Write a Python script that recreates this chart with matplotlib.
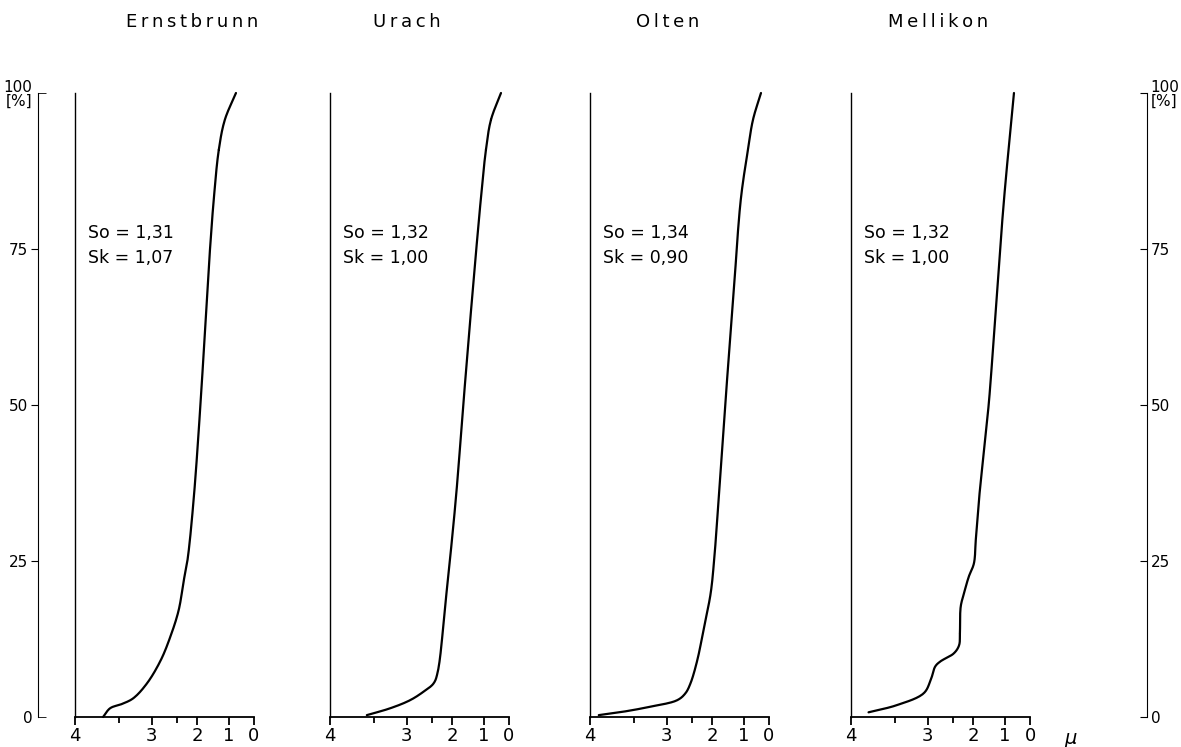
import numpy as np
import matplotlib.pyplot as plt

# =========================
# DATA
# =========================

sites = ["Ernstbrunn", "Urach", "Olten", "Mellikon"]
so_values = ["1,31", "1,32", "1,34", "1,32"]
sk_values = ["1,07", "1,00", "0,90", "1,00"]

# grain size (scale 4 .. 0) and cumulative percent
ernst_size = [3.68, 3.60, 3.45, 3.28, 3.07, 2.82, 2.63, 2.46, 2.33, 2.24,
              2.09, 1.89, 1.70, 1.60, 1.48, 1.32, 1.13, 0.72]
ernst_pct = [0, 1.4, 2.1, 3.0, 5.4, 9.1, 12.9, 17.1, 22.0, 25.2,
             34.8, 50.8, 66.8, 74.8, 82.9, 90.9, 95.7, 100]

urach_size = [3.58, 3.25, 2.93, 2.66, 2.46, 2.36, 2.16, 1.89, 1.64, 1.38,
              1.10, 0.92, 0.72, 0.32]
urach_pct = [0.3, 1.4, 2.7, 4.1, 5.4, 7.2, 18.8, 34.8, 50.8, 66.8,
             82.9, 90.9, 95.7, 100]

olten_size = [3.90, 3.62, 3.25, 2.79, 2.63, 2.53, 2.37, 2.20, 2.04, 1.94,
              1.80, 1.58, 1.34, 1.10, 0.84, 0.64, 0.32]
olten_pct = [0.3, 0.85, 1.65, 2.7, 3.8, 5.4, 9.1, 14.5, 19.8, 25.2,
             34.8, 50.8, 66.8, 82.9, 90.9, 95.7, 100]

mell_size = [3.80, 3.47, 3.06, 2.94, 2.85, 2.75, 2.48, 2.35, 2.33, 2.31,
             2.23, 2.11, 1.98, 1.92, 1.82, 1.66, 1.50, 1.27, 1.03, 0.64]
mell_pct = [0.75, 1.9, 3.8, 5.9, 8.1, 8.9, 10.2, 11.5, 13.4, 17.7,
            19.8, 22.5, 24.6, 28.4, 34.8, 42.8, 50.8, 66.8, 82.9, 100]

sizes = [ernst_size, urach_size, olten_size, mell_size]
pcts = [ernst_pct, urach_pct, olten_pct, mell_pct]

x_major = [4, 3, 2, 1, 0]
x_minor = [3.5, 2.5]
y_ticks = [0, 25, 50, 75, 100]

# non-linear size axis (position of each tick value along the panel)
scale_vals = [0, 1, 2, 2.5, 3, 3.5, 4]
scale_pos = [0, 0.14, 0.317, 0.43, 0.572, 0.755, 1.0]


def fwd(v):
    return np.interp(v, scale_vals, scale_pos)


def inv(p):
    return np.interp(p, scale_pos, scale_vals)


def smooth(points, n=16):
    # centripetal catmull-rom through the read points
    P = np.asarray(points, dtype=float)
    P = np.vstack([2 * P[0] - P[1], P, 2 * P[-1] - P[-2]])
    out = []
    for i in range(1, len(P) - 2):
        p0, p1, p2, p3 = P[i - 1:i + 3]
        t0 = 0.0
        t1 = t0 + np.linalg.norm(p1 - p0) ** 0.5
        t2 = t1 + np.linalg.norm(p2 - p1) ** 0.5
        t3 = t2 + np.linalg.norm(p3 - p2) ** 0.5
        t = np.linspace(t1, t2, n)[:, None]
        a1 = (t1 - t) / (t1 - t0) * p0 + (t - t0) / (t1 - t0) * p1
        a2 = (t2 - t) / (t2 - t1) * p1 + (t - t1) / (t2 - t1) * p2
        a3 = (t3 - t) / (t3 - t2) * p2 + (t - t2) / (t3 - t2) * p3
        b1 = (t2 - t) / (t2 - t0) * a1 + (t - t0) / (t2 - t0) * a2
        b2 = (t3 - t) / (t3 - t1) * a2 + (t - t1) / (t3 - t1) * a3
        out.append((t2 - t) / (t2 - t1) * b1 + (t - t1) / (t2 - t1) * b2)
    return np.vstack(out)


# =========================
# FIGURE
# =========================

W, H = 1181, 747
fig = plt.figure(figsize=(W / 100, H / 100), dpi=100)
plt.rcParams['font.family'] = 'DejaVu Sans'

bottom = (H - 717) / H
height = 624 / H
panel_left = [75, 330, 590, 851]
panel_w = 179
title_x = [192, 407, 668, 938]

for i in range(4):
    ax = fig.add_axes([panel_left[i] / W, bottom, panel_w / W, height])
    ax.set_xscale('function', functions=(fwd, inv))
    ax.set_xlim(4, 0)
    ax.set_ylim(0, 100)

    # smooth in (roughly) pixel space so the curve bends like the drawing
    pts = np.column_stack([fwd(np.array(sizes[i])) * panel_w,
                           np.array(pcts[i]) * 6.24])
    curve = smooth(pts)
    ax.plot(inv(curve[:, 0] / panel_w), curve[:, 1] / 6.24,
            color='black', lw=1.6, clip_on=False, solid_capstyle='round')

    for s in ['top', 'right']:
        ax.spines[s].set_visible(False)
    ax.spines['left'].set_linewidth(1.0)
    ax.spines['bottom'].set_linewidth(1.3)

    ax.set_yticks([])
    ax.set_xticks(x_major)
    ax.set_xticklabels([str(v) for v in x_major], fontsize=13)
    ax.set_xticks(x_minor, minor=True)
    ax.tick_params(axis='x', which='major', direction='out', length=6,
                   width=1.3, pad=1)
    ax.tick_params(axis='x', which='minor', direction='out', length=4,
                   width=1.3)

    ax.text(13 / panel_w, 77.6, "So = " + so_values[i], fontsize=12.5,
            transform=ax.get_yaxis_transform(), va='center')
    ax.text(13 / panel_w, 73.6, "Sk = " + sk_values[i], fontsize=12.5,
            transform=ax.get_yaxis_transform(), va='center')

    fig.text(title_x[i] / W, 1 - 22 / H, "\u2009".join(sites[i]),
             fontsize=13, ha='center', va='center')

# =========================
# OUTER PERCENT SCALES
# =========================

labels = ['0', '25', '50', '75', '100\n[%]']

axl = fig.add_axes([38 / W, bottom, 0.0005, height])
axl.set_ylim(0, 100)
for s in ['top', 'right', 'bottom']:
    axl.spines[s].set_visible(False)
axl.set_xticks([])
axl.set_yticks([25, 50, 75])
axl.set_yticklabels(labels[1:4], fontsize=11)
axl.set_yticks([0, 100], minor=True)
axl.set_yticklabels([labels[0], labels[4]], minor=True, fontsize=11,
                    linespacing=0.9)
axl.tick_params(axis='y', which='major', direction='out', length=5, pad=2)
axl.tick_params(axis='y', which='minor', direction='in', length=6, pad=4)

axr = fig.add_axes([1146 / W, bottom, 0.0005, height])
axr.set_ylim(0, 100)
for s in ['top', 'left', 'bottom']:
    axr.spines[s].set_visible(False)
axr.set_xticks([])
axr.yaxis.tick_right()
axr.set_yticks(y_ticks)
axr.set_yticklabels(labels, fontsize=11, linespacing=0.9)
axr.tick_params(axis='y', direction='in', length=5, pad=3)

fig.text(1070 / W, 1 - 738 / H, "μ", fontsize=14, style='italic',
         ha='center', va='center')

plt.savefig("out.png", dpi=100)
plt.close()
